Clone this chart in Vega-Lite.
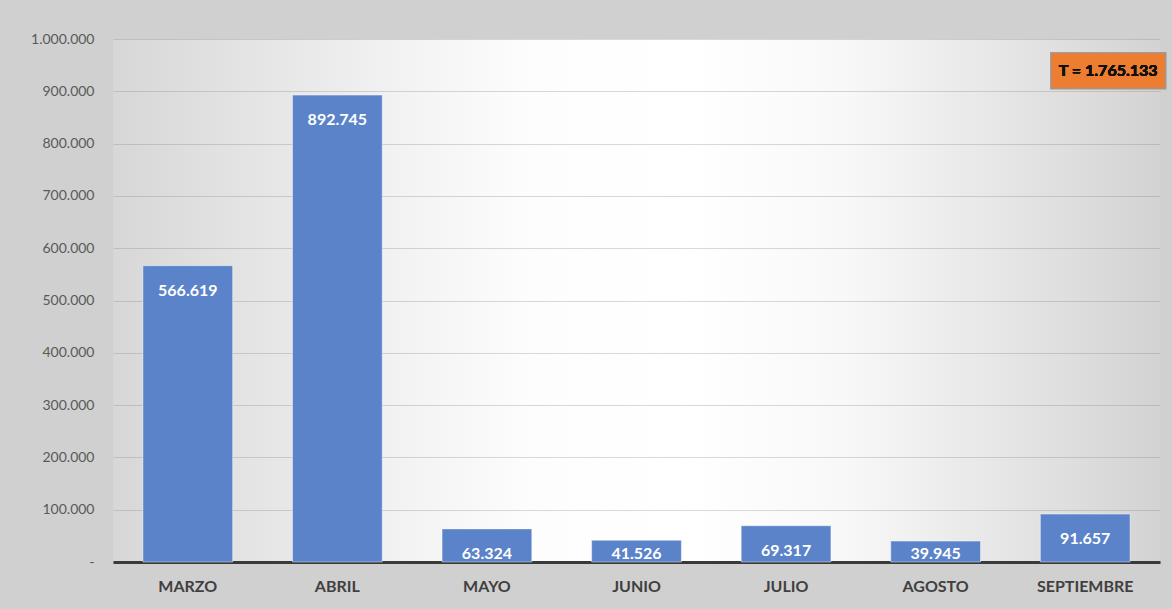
{
  "$schema": "https://vega.github.io/schema/vega-lite/v6.json",
  "width": 1047,
  "height": 523,
  "autosize": {"type": "none"},
  "padding": {"left": 113, "top": 39, "right": 12, "bottom": 47},
  "background": "#d0d0d0",
  "config": {
    "locale": {"number": {"decimal": ",", "thousands": ".", "grouping": [3], "currency": ["", " €"]}},
    "font": "Lato",
    "view": {
      "stroke": null,
      "fill": {
        "gradient": "linear",
        "x1": 0, "y1": 0, "x2": 1, "y2": 0,
        "stops": [
          {"offset": 0, "color": "#d7d7d7"},
          {"offset": 0.14, "color": "#e5e5e5"},
          {"offset": 0.27, "color": "#f2f2f2"},
          {"offset": 0.4, "color": "#fdfdfd"},
          {"offset": 0.55, "color": "#ffffff"},
          {"offset": 0.7, "color": "#f8f8f8"},
          {"offset": 0.85, "color": "#e6e6e6"},
          {"offset": 1, "color": "#d3d3d3"}
        ]
      }
    }
  },
  "data": {
    "values": [
      {"mes": "MARZO", "valor": 566619},
      {"mes": "ABRIL", "valor": 892745},
      {"mes": "MAYO", "valor": 63324},
      {"mes": "JUNIO", "valor": 41526},
      {"mes": "JULIO", "valor": 69317},
      {"mes": "AGOSTO", "valor": 39945},
      {"mes": "SEPTIEMBRE", "valor": 91657}
    ]
  },
  "encoding": {
    "x": {
      "field": "mes",
      "type": "nominal",
      "sort": null,
      "scale": {"paddingInner": 0.4, "paddingOuter": 0.2},
      "axis": {
        "title": null,
        "labelAngle": 0,
        "labelFont": "Lato",
        "labelFontSize": 16,
        "labelFontWeight": "bold",
        "labelColor": "#404040",
        "labelPadding": 16,
        "ticks": false,
        "domainColor": "#3a3a3a",
        "domainWidth": 3,
        "grid": false
      }
    },
    "y": {
      "field": "valor",
      "type": "quantitative",
      "scale": {"domain": [0, 1000000], "nice": false},
      "axis": {
        "title": null,
        "values": [0, 100000, 200000, 300000, 400000, 500000, 600000, 700000, 800000, 900000, 1000000],
        "labelExpr": "datum.value == 0 ? '-' : format(datum.value, ',.0f')",
        "labelFont": "Lato",
        "labelFontSize": 14,
        "labelColor": "#595959",
        "labelPadding": 19,
        "ticks": false,
        "domain": false,
        "gridColor": "#808080",
        "gridOpacity": 0.3,
        "gridWidth": 1
      }
    }
  },
  "layer": [
    {
      "mark": {"type": "bar", "color": "#5b83c9", "stroke": "#ffffff", "strokeOpacity": 0.45, "strokeWidth": 1}
    },
    {
      "mark": {
        "type": "text",
        "color": "#ffffff",
        "font": "Lato",
        "fontSize": 16,
        "fontWeight": "bold",
        "baseline": "middle",
        "dy": {"expr": "min(25, scale('y', 0) - scale('y', datum.valor) - 8)"}
      },
      "encoding": {
        "text": {"field": "valor", "type": "quantitative", "format": ",.0f"}
      }
    },
    {
      "mark": {"type": "bar", "color": "#ed7d31", "width": 114, "xOffset": 23, "stroke": "#9a9a9a", "strokeOpacity": 0.35, "strokeWidth": 2},
      "encoding": {
        "x": {"datum": "SEPTIEMBRE"},
        "y": {"datum": 973000},
        "y2": {"datum": 906000}
      }
    },
    {
      "mark": {"type": "text", "color": "#111111", "font": "Lato", "fontSize": 16, "fontWeight": "bold", "baseline": "middle", "xOffset": 23},
      "encoding": {
        "x": {"datum": "SEPTIEMBRE"},
        "y": {"datum": 939500},
        "text": {"value": "T = 1.765.133"}
      }
    }
  ]
}
